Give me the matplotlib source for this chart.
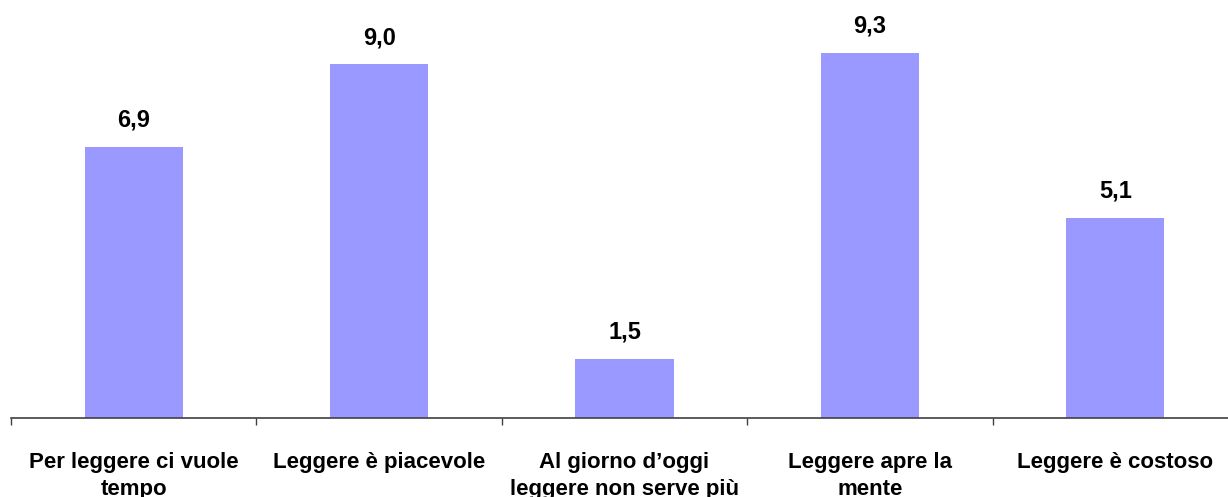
import numpy as np
import matplotlib.pyplot as plt
from matplotlib.ticker import FixedLocator, NullFormatter

plt.rcParams['font.family'] = ['Liberation Sans', 'DejaVu Sans']

categories = ["Per leggere ci vuole\ntempo", "Leggere è piacevole",
              "Al giorno d’oggi\nleggere non serve più", "Leggere apre la\nmente",
              "Leggere è costoso"]
values = [6.9, 9.0, 1.5, 9.3, 5.1]
value_labels = ["6,9", "9,0", "1,5", "9,3", "5,1"]

fig = plt.figure(figsize=(12.28, 4.97), dpi=100)
ax = fig.add_axes([11 / 1228, 79 / 497, 1227 / 1228, 418 / 497])

x = np.arange(len(categories))
ax.bar(x, values, width=0.4, color="#9999FF", zorder=2)

for xi, v, lab in zip(x, values, value_labels):
    ax.annotate(lab, (xi, v), xytext=(0, 14.5), textcoords="offset points",
                ha="center", va="baseline", fontsize=17, fontweight="bold")

ax.set_xlim(-0.5, len(categories) - 0.5)
ax.set_ylim(0, 10.64)

for s in ["top", "right", "left"]:
    ax.spines[s].set_visible(False)
ax.spines["bottom"].set_color("#404040")
ax.spines["bottom"].set_linewidth(1.2)
ax.set_yticks([])

# ticks at category boundaries, labels at centres
ax.xaxis.set_major_locator(FixedLocator(np.arange(len(categories) + 1) - 0.5))
ax.xaxis.set_major_formatter(NullFormatter())
ax.xaxis.set_minor_locator(FixedLocator(x))
ax.set_xticklabels(categories, minor=True, fontsize=16, fontweight="bold",
                   linespacing=1.4)
ax.tick_params(axis="x", which="major", length=5, width=1, color="#404040")
ax.tick_params(axis="x", which="minor", length=0, pad=24.5)

fig.savefig("out.png", dpi=100)
